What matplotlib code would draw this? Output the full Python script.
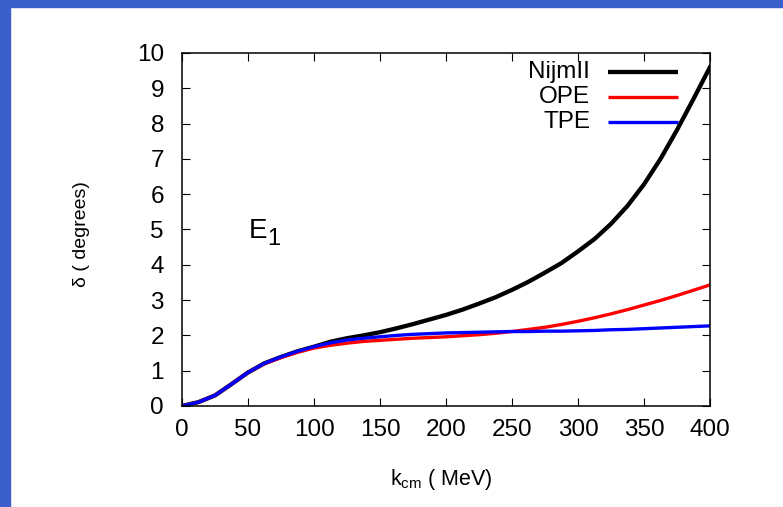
import matplotlib.pyplot as plt
from matplotlib.patches import Rectangle

plt.rcParams['font.family'] = ['Liberation Sans', 'DejaVu Sans']
plt.rcParams['mathtext.fontset'] = 'custom'
plt.rcParams['mathtext.rm'] = 'Liberation Sans'

# Данные
k = [0, 12.5, 25, 37.5, 50, 62.5, 75, 87.5, 100, 112.5, 125, 137.5, 150, 162.5, 175, 187.5,
     200, 212.5, 225, 237.5, 250, 262.5, 275, 287.5, 300, 312.5, 325, 337.5, 350, 362.5,
     375, 387.5, 400]
nijm = [0, 0.11, 0.3, 0.62, 0.95, 1.21, 1.39, 1.55, 1.68, 1.82, 1.92, 2.0, 2.09, 2.2,
        2.32, 2.45, 2.58, 2.73, 2.9, 3.08, 3.29, 3.52, 3.78, 4.05, 4.38, 4.73, 5.16, 5.67,
        6.28, 7.0, 7.82, 8.7, 9.6]
ope = [0, 0.11, 0.3, 0.62, 0.95, 1.2, 1.37, 1.52, 1.64, 1.72, 1.78, 1.83, 1.86, 1.89,
       1.92, 1.94, 1.96, 1.99, 2.02, 2.06, 2.11, 2.17, 2.23, 2.31, 2.4, 2.5, 2.61, 2.73,
       2.86, 2.99, 3.13, 3.28, 3.43]
tpe = [0, 0.11, 0.3, 0.62, 0.95, 1.21, 1.39, 1.55, 1.68, 1.79, 1.87, 1.92, 1.96, 2.0,
       2.03, 2.05, 2.07, 2.08, 2.09, 2.1, 2.11, 2.11, 2.12, 2.12, 2.13, 2.14, 2.16, 2.17,
       2.19, 2.21, 2.23, 2.25, 2.27]

xticks = list(range(0, 401, 50))
yticks = list(range(0, 11))

fig = plt.figure(figsize=(7.83, 5.07), dpi=100)

# Синяя рамка слева и сверху
fig.patches.append(Rectangle((0, 0), 10 / 783, 1, transform=fig.transFigure,
                             color='#3a5fc8', zorder=0))
fig.patches.append(Rectangle((0, 1 - 7 / 507), 1, 7 / 507, transform=fig.transFigure,
                             color='#3a5fc8', zorder=0))

ax = fig.add_axes([182 / 783, 1 - 406 / 507, 528 / 783, 353 / 507])

ax.plot(k, nijm, color='black', lw=3.1)
ax.plot(k, ope, color='#ff0000', lw=2.4)
ax.plot(k, tpe, color='#0000ff', lw=2.4)

ax.set_xlim(0, 400)
ax.set_ylim(0, 10)
ax.set_xticks(xticks)
ax.set_yticks(yticks)
for s in ax.spines.values():
    s.set_linewidth(1.1)
ax.tick_params(direction='in', top=True, right=True, length=6, width=0.8,
               labelsize=17.5)
ax.tick_params(axis='x', pad=9)
ax.tick_params(axis='y', pad=13)

# Легенда вручную (как в gnuplot)
names = ['NijmII', 'OPE', 'TPE']
cols = ['black', '#ff0000', '#0000ff']
lws = [3.1, 2.4, 2.4]
for i in range(3):
    yy = 1 - (72 + 25 * i - 53) / 353
    ax.text((590 - 182) / 528, yy, names[i], transform=ax.transAxes,
            ha='right', va='center', fontsize=17.5)
    ax.plot([(608 - 182) / 528, (678 - 182) / 528], [yy, yy], transform=ax.transAxes,
            color=cols[i], lw=lws[i], solid_capstyle='butt')

ax.text(50.5, 4.76, 'E', fontsize=20, va='baseline')
ax.text(64.5, 4.56, '1', fontsize=17, va='baseline')

fig.text(82 / 783, 1 - 234 / 507, 'δ ( degrees)', rotation=90, ha='center', va='center',
         fontsize=14)
fig.text(441 / 783, 1 - 480 / 507, '$\\mathregular{k_{cm}}$ ( MeV)', ha='center',
         va='center', fontsize=15.5)

plt.savefig('out.png')
